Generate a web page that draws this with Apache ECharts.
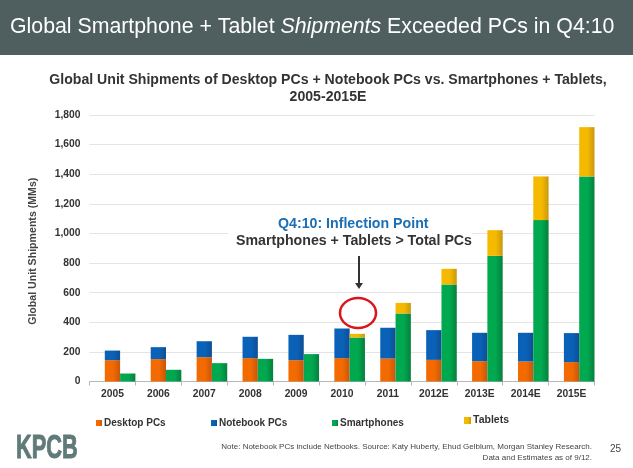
<!DOCTYPE html>
<html>
<head>
<meta charset="utf-8">
<style>
  html, body { margin: 0; padding: 0; background: #fff; }
  #chart { width: 633px; height: 468px; }
</style>
<script src="https://cdn.jsdelivr.net/npm/echarts@6/dist/echarts.min.js"></script>
</head>
<body>
<div id="chart"></div>
<script>
const years = ['2005', '2006', '2007', '2008', '2009', '2010', '2011', '2012E', '2013E', '2014E', '2015E'];
const desktopPCs = [144, 151, 164, 158, 144, 158, 155, 146, 137, 135, 131];
const notebookPCs = [65, 81, 108, 144, 171, 200, 208, 201, 192, 194, 196];
const smartphones = [54, 79, 124, 153, 185, 297, 459, 655, 849, 1090, 1385];
const tablets = [0, 0, 0, 0, 0, 25, 72, 106, 173, 295, 333];

const FONT = '"Liberation Sans", Arial, sans-serif';
const chart = echarts.init(document.getElementById('chart'));

// bars are shaded left to right in the original
function shade(from, to) {
  return new echarts.graphic.LinearGradient(0, 0, 1, 0, [
    { offset: 0, color: from },
    { offset: 0.55, color: from },
    { offset: 1, color: to }
  ]);
}

function legendAt(name, left, top, size, fontSize) {
  return {
    data: [name],
    left: left,
    top: top,
    icon: 'rect',
    itemWidth: size,
    itemHeight: size,
    itemGap: 2,
    padding: 0,
    selectedMode: false,
    textStyle: { fontFamily: FONT, fontWeight: 'bold', fontSize: fontSize, color: '#333', padding: [0, 0, 0, -3] }
  };
}

chart.setOption({
  animation: false,
  backgroundColor: '#fff',
  title: [{
    text: '{n|Global Smartphone + Tablet }{i|Shipments}{n| Exceeded PCs in Q4:10}',
    left: 10,
    top: 17,
    padding: 0,
    textStyle: {
      fontWeight: 'normal',
      rich: {
        n: { fontFamily: FONT, fontSize: 21.3, fontWeight: 'normal', color: '#fff' },
        i: { fontFamily: FONT, fontSize: 21.3, fontWeight: 'normal', color: '#fff', fontStyle: 'italic' }
      }
    }
  }, {
    text: 'Global Unit Shipments of Desktop PCs + Notebook PCs vs. Smartphones + Tablets,\n2005-2015E',
    left: 328,
    top: 71,
    padding: 0,
    textAlign: 'center',
    textStyle: { fontFamily: FONT, fontSize: 14.1, fontWeight: 'bold', color: '#333', lineHeight: 17.5 }
  }, {
    text: 'Note: Notebook PCs include Netbooks. Source: Katy Huberty, Ehud Gelblum, Morgan Stanley Research.\nData and Estimates as of 9/12.',
    left: 592,
    top: 441,
    padding: 0,
    textAlign: 'right',
    textStyle: { fontFamily: FONT, fontSize: 8, fontWeight: 'normal', color: '#444', lineHeight: 11, align: 'right' }
  }],
  legend: [
    legendAt('Desktop PCs', 96, 418, 6, 10),
    legendAt('Notebook PCs', 211, 418, 6, 10),
    legendAt('Smartphones', 332, 418, 6, 10),
    legendAt('Tablets', 464, 415, 7, 10.5)
  ],
  grid: { left: 89.5, right: 38.5, top: 115, bottom: 86.5 },
  xAxis: {
    type: 'category',
    data: years,
    axisLine: { lineStyle: { color: '#b8b8b8' } },
    axisTick: { show: true, length: 4, lineStyle: { color: '#b8b8b8' } },
    axisLabel: { fontFamily: FONT, fontWeight: 'bold', fontSize: 10.3, color: '#333', margin: 8, interval: 0 }
  },
  yAxis: {
    type: 'value',
    min: 0,
    max: 1800,
    interval: 200,
    name: 'Global Unit Shipments (MMs)',
    nameLocation: 'middle',
    nameGap: 51,
    nameTextStyle: { fontFamily: FONT, fontWeight: 'bold', fontSize: 10.6, color: '#444', padding: [0, 6, 0, 0] },
    axisLine: { show: false },
    axisTick: { show: false },
    axisLabel: { fontFamily: FONT, fontWeight: 'bold', fontSize: 10.3, color: '#333', margin: 9 },
    splitLine: { lineStyle: { color: '#e4e4e4' } }
  },
  series: [
    // empty first slot: the bars sit right of the category centre in the original
    { name: 'spacer', type: 'bar', stack: 'none', data: [], barGap: 0, barCategoryGap: 0 },
    { name: 'Desktop PCs', type: 'bar', stack: 'pc', data: desktopPCs, itemStyle: { color: shade('#f26a00', '#c9560c') } },
    { name: 'Notebook PCs', type: 'bar', stack: 'pc', data: notebookPCs, itemStyle: { color: shade('#0a62b8', '#0f4d94') } },
    { name: 'Smartphones', type: 'bar', stack: 'mobile', data: smartphones, itemStyle: { color: shade('#00a84f', '#067f3d') } },
    { name: 'Tablets', type: 'bar', stack: 'mobile', data: tablets, itemStyle: { color: shade('#f5b900', '#c8980f') } }
  ],
  graphic: [
    { type: 'rect', z: -10, shape: { x: 0, y: 0, width: 633, height: 55 }, style: { fill: '#4f5f5f' } },
    // white box behind the callout hides the 1,000 gridline
    { type: 'rect', z: 5, shape: { x: 228, y: 215, width: 244, height: 34 }, style: { fill: '#fff' } },
    { type: 'text', z: 6, left: 278, top: 217, style: { text: 'Q4:10: Inflection Point', fontFamily: FONT, fontWeight: 'bold', fontSize: 14.2, fill: '#1b6fb5' } },
    { type: 'text', z: 6, left: 236, top: 234, style: { text: 'Smartphones + Tablets > Total PCs', fontFamily: FONT, fontWeight: 'bold', fontSize: 14.2, fill: '#333' } },
    { type: 'line', z: 6, shape: { x1: 359, y1: 256, x2: 359, y2: 284 }, style: { stroke: '#333', lineWidth: 2 } },
    { type: 'polygon', z: 6, shape: { points: [[355, 283], [363, 283], [359, 289]] }, style: { fill: '#333' } },
    { type: 'ellipse', z: 10, shape: { cx: 358, cy: 313, rx: 18, ry: 15 }, style: { fill: 'none', stroke: '#d9161c', lineWidth: 2.5 } },
    { type: 'text', x: 16, y: 432, scaleX: 0.66, style: { text: 'KPCB', fontFamily: FONT, fontWeight: 'bold', fontSize: 33, fill: '#5f7a78', stroke: '#5f7a78', lineWidth: 1 } },
    { type: 'text', left: 610, top: 444, style: { text: '25', fontFamily: FONT, fontSize: 10, fill: '#444' } }
  ]
});
</script>
</body>
</html>
